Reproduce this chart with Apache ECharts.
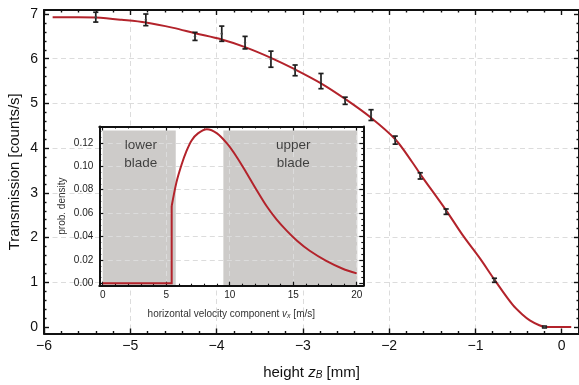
<!DOCTYPE html>
<html><head><meta charset="utf-8">
<script src="https://cdn.jsdelivr.net/npm/echarts@6/dist/echarts.min.js"></script>
<style>html,body{margin:0;padding:0;background:#fff}#c{width:579px;height:385px}</style>
</head><body><div id="c"></div>
<script>
// ---------- data ----------
const pointX   = [-5.40, -4.82, -4.25, -3.94, -3.67, -3.37, -3.09, -2.79, -2.51, -2.21, -1.93, -1.64, -1.34, -0.78, -0.20];
const pointY   = [6.93, 6.87, 6.50, 6.56, 6.36, 5.99, 5.74, 5.50, 5.06, 4.74, 4.18, 3.38, 2.58, 1.045, 0.0];
const pointErr = [0.11, 0.13, 0.09, 0.17, 0.14, 0.18, 0.12, 0.17, 0.08, 0.12, 0.09, 0.07, 0.06, 0.045, 0.02];

const fitX = [-5.90, -5.60, -5.40, -5.10, -4.82, -4.50, -4.25, -3.94, -3.67, -3.37, -3.09, -2.79, -2.51, -2.21, -1.93, -1.73, -1.64, -1.34, -1.15, -0.95, -0.78, -0.57, -0.45, -0.37, -0.26, -0.18, 0.11];
const fitY = [6.93, 6.93, 6.92, 6.87, 6.81, 6.69, 6.57, 6.43, 6.26, 6.02, 5.76, 5.45, 5.10, 4.68, 4.20, 3.68, 3.42, 2.61, 2.06, 1.54, 1.06, 0.50, 0.27, 0.15, 0.04, 0.0, 0.0];

const velFlatX = [0, 5.43, 5.43];
const velFlatY = [0, 0, 0.066];
const velX = [5.43, 5.8, 6.2, 6.6, 7.0, 7.5, 8.2, 9.0, 9.8, 10.5, 11.3, 12.0, 12.9, 13.7, 14.5, 15.3, 16.3, 17.6, 18.9, 20.0];
const velY = [0.066, 0.086, 0.101, 0.113, 0.122, 0.128, 0.1315, 0.128, 0.1192, 0.1087, 0.0947, 0.0818, 0.066, 0.0544, 0.0448, 0.0364, 0.0278, 0.0192, 0.0125, 0.0085];

const bladeStart = [0, 9.5];
const bladeEnd   = [5.75, 20.05];
const bladeLow = -0.0015, bladeHigh = 0.1305;
const bladeLabels = ['lower\nblade', 'upper\nblade'];
const bladeLabelX = [3.0, 15.0];
const bladeLabelY = [0.110, 0.110];

const mainXTicks = [-6, -5, -4, -3, -2, -1, 0];
const mainYTicks = [0, 1, 2, 3, 4, 5, 6, 7];
const mainXGrid  = [-5, -4, -3, -2, -1];
const mainYGrid  = [1, 2, 3, 4, 5, 6];
const insetXTicks = [0, 5, 10, 15, 20];
const insetYTicks = [0, 0.02, 0.04, 0.06, 0.08, 0.10, 0.12];
const insetXGrid  = [5, 10, 15, 20];
const insetYGrid  = [0.02, 0.04, 0.06, 0.08, 0.10, 0.12];

function minorTicks(from, to, step, majorStep) {
  const out = [];
  const n = Math.round((to - from) / step);
  for (let i = 0; i <= n; i++) {
    const v = +(from + i * step).toFixed(6);
    const r = v / majorStep;
    if (Math.abs(r - Math.round(r)) > 1e-6) out.push(v);
  }
  return out;
}
const mainXMinor = minorTicks(-6, 0, 0.2, 1);
const mainYMinor = minorTicks(0, 7, 0.2, 1);
const insetXMinor = minorTicks(0, 20, 1, 5);
const insetYMinor = minorTicks(0, 0.13, 0.005, 0.02);

// ---------- helpers ----------
const FONT = 'Liberation Sans';
const RED = '#b3232b';
const minus = v => (v < 0 ? '\u2212' + Math.abs(v) : String(v));

function axis(o) {
  return {
    type: 'value', gridIndex: o.grid, position: o.pos, min: o.min, max: o.max, z: o.z || 0,
    axisLine: { show: !!o.line, onZero: false, lineStyle: { color: '#111', width: o.lw || 2 } },
    axisTick: { show: !!o.ticks, inside: true, length: o.tl || 4, customValues: o.ticks || o.gridVals,
                lineStyle: { color: '#111', width: o.tw || 1.4 } },
    axisLabel: o.label ? Object.assign({ show: true, customValues: o.ticks, fontFamily: FONT, color: '#111' }, o.label) : { show: false },
    splitLine: o.gridVals ? { show: true, customValues: o.gridVals, lineStyle: { color: '#dcdcdc', width: 1, type: [5, 3.5] } } : { show: false },
    name: o.name || '', nameLocation: 'middle', nameGap: o.nameGap || 0, nameRotate: o.nameRotate,
    nameTextStyle: o.nameStyle, nameMoveOverlap: false
  };
}
const MX = { grid: 0, min: -6, max: 0.2 };
const MY = { grid: 0, min: -0.145, max: 7.09 };
const IX = { grid: 1, min: -0.27, max: 20.52, z: 7 };
const IY = { grid: 1, min: -0.002, max: 0.1339, z: 7 };

const xAxes = [
  axis(Object.assign({}, MX, { pos: 'bottom', line: true, ticks: mainXTicks, tl: 5,
    label: { fontSize: 14, margin: 6, formatter: minus },
    name: '{n|height }{i|z}{s|B}{n| [mm]}', nameGap: 29,
    nameStyle: { fontFamily: FONT, color: '#111', rich: {
      n: { fontSize: 15, lineHeight: 18, fontFamily: FONT, color: '#111', verticalAlign: 'bottom' },
      i: { fontSize: 15, lineHeight: 18, fontStyle: 'italic', fontFamily: FONT, color: '#111', verticalAlign: 'bottom' },
      s: { fontSize: 10, lineHeight: 10, fontStyle: 'italic', fontFamily: FONT, color: '#111', verticalAlign: 'bottom' } } } })),
  axis(Object.assign({}, MX, { pos: 'bottom', ticks: mainXMinor, tl: 2.5 })),
  axis(Object.assign({}, MX, { pos: 'top', line: true, ticks: mainXTicks, tl: 5 })),
  axis(Object.assign({}, MX, { pos: 'top', ticks: mainXMinor, tl: 2.5 })),
  axis(Object.assign({}, MX, { pos: 'bottom', gridVals: mainXGrid })),
  // inset
  axis(Object.assign({}, IX, { pos: 'bottom', line: true, ticks: insetXTicks, tl: 4, tw: 1.2,
    label: { fontSize: 10, margin: 5, color: '#222' },
    name: '{n|horizontal velocity component }{i|v}{s|x}{n| [m/s]}', nameGap: 21,
    nameStyle: { fontFamily: FONT, color: '#333', rich: {
      n: { fontSize: 10, lineHeight: 13, fontFamily: FONT, color: '#333', verticalAlign: 'bottom' },
      i: { fontSize: 10, lineHeight: 13, fontStyle: 'italic', fontFamily: FONT, color: '#333', verticalAlign: 'bottom' },
      s: { fontSize: 7, lineHeight: 7, fontStyle: 'italic', fontFamily: FONT, color: '#333', verticalAlign: 'bottom' } } } })),
  axis(Object.assign({}, IX, { pos: 'bottom', ticks: insetXMinor, tl: 2, tw: 1.1 })),
  axis(Object.assign({}, IX, { pos: 'top', line: true, ticks: insetXTicks, tl: 4, tw: 1.2 })),
  axis(Object.assign({}, IX, { pos: 'top', ticks: insetXMinor, tl: 2, tw: 1.1 })),
  axis(Object.assign({}, IX, { pos: 'bottom', gridVals: insetXGrid }))
];
const yAxes = [
  axis(Object.assign({}, MY, { pos: 'left', line: true, ticks: mainYTicks, tl: 5,
    label: { fontSize: 14, margin: 6 },
    name: 'Transmission [counts/s]', nameGap: 22, nameRotate: 90,
    nameStyle: { fontFamily: FONT, fontSize: 15, color: '#111' } })),
  axis(Object.assign({}, MY, { pos: 'left', ticks: mainYMinor, tl: 2.5 })),
  axis(Object.assign({}, MY, { pos: 'right', line: true, ticks: mainYTicks, tl: 5 })),
  axis(Object.assign({}, MY, { pos: 'right', ticks: mainYMinor, tl: 2.5 })),
  axis(Object.assign({}, MY, { pos: 'left', gridVals: mainYGrid })),
  // inset
  axis(Object.assign({}, IY, { pos: 'left', line: true, ticks: insetYTicks, tl: 4, tw: 1.2,
    label: { fontSize: 10, margin: 6, color: '#222', formatter: v => v.toFixed(2) },
    name: 'prob. density', nameGap: 32, nameRotate: 90,
    nameStyle: { fontFamily: FONT, fontSize: 10, color: '#333' } })),
  axis(Object.assign({}, IY, { pos: 'left', ticks: insetYMinor, tl: 2, tw: 1.1 })),
  axis(Object.assign({}, IY, { pos: 'right', line: true, ticks: insetYTicks, tl: 4, tw: 1.2 })),
  axis(Object.assign({}, IY, { pos: 'right', ticks: insetYMinor, tl: 2, tw: 1.1 })),
  axis(Object.assign({}, IY, { pos: 'left', gridVals: insetYGrid }))
];

const chart = echarts.init(document.getElementById('c'), null, { renderer: 'canvas' });
chart.setOption({
  animation: false,
  backgroundColor: '#fff',
  textStyle: { fontFamily: FONT },
  grid: [
    { left: 44, right: 0, top: 10, bottom: 51.5, containLabel: false, outerBoundsMode: 'none' },
    { left: 99.3, top: 126.5, width: 264, height: 159.2, containLabel: false, outerBoundsMode: 'none',
      show: true, backgroundColor: '#fff', borderWidth: 0, z: 5 }
  ],
  xAxis: xAxes,
  yAxis: yAxes,
  series: [
    { type: 'line', xAxisIndex: 0, yAxisIndex: 0, z: 3, showSymbol: false, smooth: 0.35,
      data: fitX.map((x, i) => [x, fitY[i]]),
      lineStyle: { color: RED, width: 2 } },
    { type: 'custom', xAxisIndex: 0, yAxisIndex: 0, z: 4, encode: { x: 0, y: 1 },
      data: pointX.map((x, i) => [x, pointY[i], pointErr[i]]),
      renderItem: function (params, api) {
        const x = api.value(0), y = api.value(1), e = api.value(2);
        const t = api.coord([x, y + e]), b = api.coord([x, y - e]), c = api.coord([x, y]);
        const w = 2.6, st = { stroke: '#1e1e1e', lineWidth: 1.7 };
        return { type: 'group', children: [
          { type: 'line', shape: { x1: t[0], y1: t[1], x2: b[0], y2: b[1] }, style: st },
          { type: 'line', shape: { x1: t[0] - w, y1: t[1], x2: t[0] + w, y2: t[1] }, style: st },
          { type: 'line', shape: { x1: b[0] - w, y1: b[1], x2: b[0] + w, y2: b[1] }, style: st },
          { type: 'circle', shape: { cx: c[0], cy: c[1], r: 1.2 }, style: { fill: '#444' } }
        ] };
      } },
    { type: 'custom', xAxisIndex: 5, yAxisIndex: 5, z: 6, encode: { x: [0, 1], y: [2, 3] },
      data: bladeStart.map((s, i) => [s, bladeEnd[i], bladeLow, bladeHigh]),
      renderItem: function (params, api) {
        const p0 = api.coord([api.value(0), api.value(3)]);
        const p1 = api.coord([api.value(1), api.value(2)]);
        return { type: 'rect', shape: { x: p0[0], y: p0[1], width: p1[0] - p0[0], height: p1[1] - p0[1] },
                 style: { fill: '#cdcbc9' } };
      } },
    { type: 'line', xAxisIndex: 5, yAxisIndex: 5, z: 9, showSymbol: false,
      data: velFlatX.map((x, i) => [x, velFlatY[i]]),
      lineStyle: { color: RED, width: 2, join: 'miter' } },
    { type: 'line', xAxisIndex: 5, yAxisIndex: 5, z: 9, showSymbol: false, smooth: 0.3,
      data: velX.map((x, i) => [x, velY[i]]),
      lineStyle: { color: RED, width: 2 } },
    { type: 'scatter', xAxisIndex: 5, yAxisIndex: 5, z: 9, symbolSize: 0,
      data: bladeLabelX.map((x, i) => [x, bladeLabelY[i], bladeLabels[i]]),
      label: { show: true, position: 'inside', formatter: p => p.data[2], fontFamily: FONT,
               fontSize: 13.5, lineHeight: 18.5, color: '#1a1a1a', align: 'center' } }
  ]
});
</script>
</body></html>
